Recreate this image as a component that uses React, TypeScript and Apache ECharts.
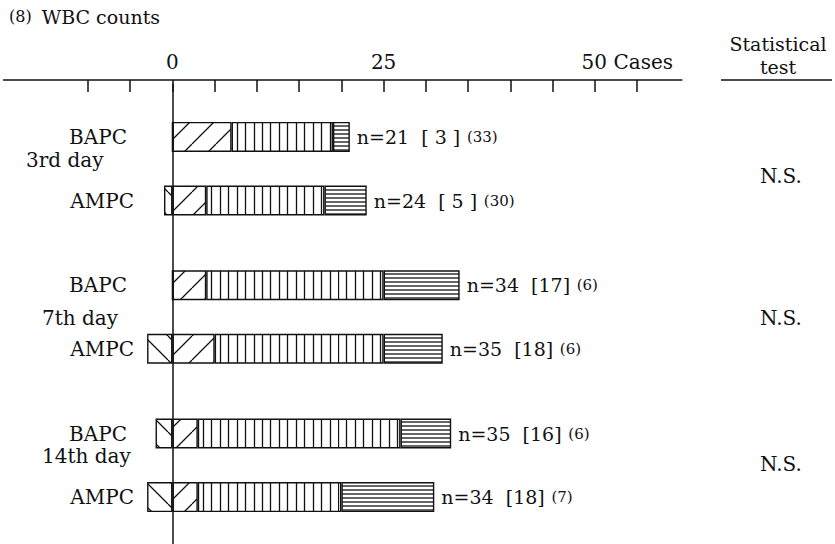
import React, { useEffect, useRef } from 'react';
import * as echarts from 'echarts';

// ---------- data ----------
const titleNumber = '(8)';
const titleText = 'WBC counts';
const periods = ['3rd day', '7th day', '14th day'];
const drugs = ['BAPC', 'AMPC'];
// bar order: BAPC 3rd, AMPC 3rd, BAPC 7th, AMPC 7th, BAPC 14th, AMPC 14th
const decreasedPart = [0, -1, 0, -3, -2, -3];
const diagonalPart = [7, 4, 4, 5, 3, 3];
const verticalPart = [12, 14, 21, 20, 24, 17];
const horizontalPart = [2, 5, 9, 7, 6, 11];
const nCases = [21, 24, 34, 35, 35, 34];
const bracketCounts = [3, 5, 17, 18, 16, 18];
const parenCounts = [33, 30, 6, 6, 6, 7];
const statTests = ['N.S.', 'N.S.', 'N.S.'];
const statHeader = ['Statistical', 'test'];
const xTickValues = [-10, -5, 0, 5, 10, 15, 20, 25, 30, 35, 40, 45, 50, 55];
const xLabelValues = [0, 25, 50];
const unitLabel = 'Cases';

// ---------- layout ----------
const FONT = '"DejaVu Serif", serif';
const GRID_LEFT = 3.5;
const GRID_TOP = 84;
const GRID_W = 678.3;
const GRID_H = 466;
const X_MIN = -20;
const X_MAX = 60.3;
const SLOTS = 22;
const pxPerCase = GRID_W / (X_MAX - X_MIN);
const zeroX = GRID_LEFT + (0 - X_MIN) * pxPerCase;
const drugLabelRight = 134;
const dayLabelPos = [
  { x: 26, y: 160 },
  { x: 42, y: 318 },
  { x: 42, y: 456 },
];
const statY = [176, 318, 464];
const headerY = [44, 67];

function slotOf(bar: number) {
  const g = Math.floor(bar / 2);
  return 2 + 7 * g + (bar % 2) * 3;
}

function makeTile(w: number, h: number, draw: (c: CanvasRenderingContext2D) => void) {
  const cv = document.createElement('canvas');
  cv.width = w;
  cv.height = h;
  const ctx = cv.getContext('2d')!;
  ctx.clearRect(0, 0, w, h);
  ctx.strokeStyle = '#111';
  ctx.lineWidth = 1.3;
  ctx.beginPath();
  draw(ctx);
  ctx.stroke();
  return cv;
}

function buildPatterns() {
  const S = 24;
  const slash = makeTile(S, S, (c) => {
    for (let k = -1; k <= 1; k++) {
      c.moveTo(k * S, S);
      c.lineTo(k * S + S, 0);
    }
  });
  const backslash = makeTile(S, S, (c) => {
    for (let k = -1; k <= 1; k++) {
      c.moveTo(k * S, 0);
      c.lineTo(k * S + S, S);
    }
  });
  const VW = 169;
  const vert = makeTile(VW, 4, (c) => {
    for (let i = 0; i < 20; i++) {
      const x = Math.round(i * (VW / 20)) + 0.5;
      c.moveTo(x, 0);
      c.lineTo(x, 4);
    }
  });
  const horiz = makeTile(4, 4, (c) => {
    c.moveTo(0, 2);
    c.lineTo(4, 2);
  });
  const pat = (img: HTMLCanvasElement) => ({
    image: img,
    repeat: 'repeat',
    imageWidth: img.width,
    imageHeight: img.height,
    x: zeroX,
    y: 0,
  });
  return { slash: pat(slash), backslash: pat(backslash), vert: pat(vert), horiz: pat(horiz) };
}

export default function App() {
  const ref = useRef<HTMLDivElement>(null);

  useEffect(() => {
    if (!ref.current) return;
    const chart = echarts.init(ref.current, null, { renderer: 'svg' });
    const pats = buildPatterns();

    const categories: string[] = [];
    for (let i = 0; i < SLOTS; i++) categories.push('slot' + i);
    const drugAtSlot: Record<number, string> = {};
    nCases.forEach((_, b) => {
      const s = slotOf(b);
      drugAtSlot[s] = drugs[b % 2];
      categories[s] = drugs[b % 2] + ' ' + periods[Math.floor(b / 2)];
    });

    const toSlots = (arr: number[]) => {
      const out: (number | null)[] = new Array(SLOTS).fill(null);
      arr.forEach((v, b) => {
        out[slotOf(b)] = v;
      });
      return out;
    };
    const barIndexAtSlot: Record<number, number> = {};
    nCases.forEach((_, b) => (barIndexAtSlot[slotOf(b)] = b));

    const itemBase = { borderColor: '#111', borderWidth: 1.4 };
    const mk = (name: string, data: number[], color: any, extra: any = {}) => ({
      type: 'bar',
      name,
      stack: 'total',
      barWidth: 30,
      data: toSlots(data),
      itemStyle: { ...itemBase, color },
      emphasis: { disabled: true },
      ...extra,
    });

    const txt = (text: string, x: number, y: number, align: string, size = 20) => ({
      type: 'text',
      x,
      y,
      style: {
        text,
        fontSize: size,
        lineHeight: size,
        fontFamily: FONT,
        fontWeight: 'normal',
        fill: '#111',
        align,
        verticalAlign: 'middle',
      },
    });

    const graphic: any[] = [];
    statHeader.forEach((t, i) => graphic.push(txt(t, 778, headerY[i], 'center', 19)));
    graphic.push({
      type: 'line',
      shape: { x1: 721, y1: 80, x2: 832, y2: 80 },
      style: { stroke: '#111', lineWidth: 1.5 },
    });
    periods.forEach((p, i) => {
      graphic.push(txt(p, dayLabelPos[i].x, dayLabelPos[i].y, 'left'));
      graphic.push(txt(statTests[i], 781, statY[i], 'center'));
    });

    chart.setOption({
      animation: false,
      backgroundColor: '#fff',
      title: {
        text: `{n|${titleNumber}}  {t|${titleText}}`,
        left: 4,
        top: 2,
        textStyle: {
          fontWeight: 'normal',
          rich: {
            n: { fontSize: 16, fontFamily: FONT, color: '#111', fontWeight: 'normal' },
            t: { fontSize: 19, fontFamily: FONT, color: '#111', fontWeight: 'normal' },
          },
        },
      },
      grid: {
        left: GRID_LEFT,
        top: GRID_TOP,
        width: GRID_W,
        height: GRID_H,
        containLabel: false,
        outerBoundsMode: 'none',
      },
      xAxis: {
        type: 'value',
        position: 'top',
        offset: 4,
        min: X_MIN,
        max: X_MAX,
        axisLine: { show: true, onZero: false, lineStyle: { color: '#111', width: 1.5 } },
        axisTick: { show: true, inside: true, length: 12, customValues: xTickValues, lineStyle: { color: '#111', width: 1.5 } },
        axisLabel: {
          customValues: xLabelValues,
          margin: 8,
          formatter: (v: number) => (v === 50 ? `{u|${v} ${unitLabel}}` : `{d|${v}}`),
          rich: {
            d: { fontSize: 20, lineHeight: 20, fontFamily: FONT, color: '#111' },
            u: { fontSize: 20, lineHeight: 20, fontFamily: FONT, color: '#111', padding: [0, 0, 0, 65] },
          },
        },
        splitLine: { show: false },
      },
      yAxis: {
        type: 'category',
        inverse: true,
        data: categories,
        axisLine: { show: true, onZero: true, lineStyle: { color: '#111', width: 1.5 } },
        axisTick: { show: false },
        axisLabel: {
          interval: 0,
          margin: GRID_LEFT - drugLabelRight,
          align: 'right',
          formatter: (_v: string, idx: number) => {
            const d = drugAtSlot[idx];
            if (!d) return '';
            return d === 'BAPC' ? `{b|${d}}` : `{a|${d}}`;
          },
          rich: {
            a: { fontSize: 20, lineHeight: 20, fontFamily: FONT, color: '#111' },
            b: { fontSize: 20, lineHeight: 20, fontFamily: FONT, color: '#111', padding: [0, 7, 0, 0] },
          },
        },
        splitLine: { show: false },
      },
      series: [
        mk('decreased', decreasedPart, pats.backslash),
        mk('diagonal', diagonalPart, pats.slash),
        mk('vertical', verticalPart, pats.vert),
        mk('horizontal', horizontalPart, pats.horiz, {
          label: {
            show: true,
            position: 'right',
            distance: 7,
            formatter: (p: any) => {
              const b = barIndexAtSlot[p.dataIndex];
              if (b == null) return '';
              const br = bracketCounts[b];
              const brText = br < 10 ? `[ ${br} ]` : `[${br}]`;
              return `{m|n=${nCases[b]}  ${brText}}  {s|(${parenCounts[b]})}`;
            },
            rich: {
              m: { fontSize: 19, lineHeight: 20, fontFamily: FONT, color: '#111' },
              s: { fontSize: 15, lineHeight: 20, fontFamily: FONT, color: '#111' },
            },
          },
        }),
      ],
      graphic,
    });

    return () => chart.dispose();
  }, []);

  return (
    <div
      ref={ref}
      style={{ position: 'fixed', left: 0, top: 0, width: 835, height: 544, background: '#fff' }}
    />
  );
}
